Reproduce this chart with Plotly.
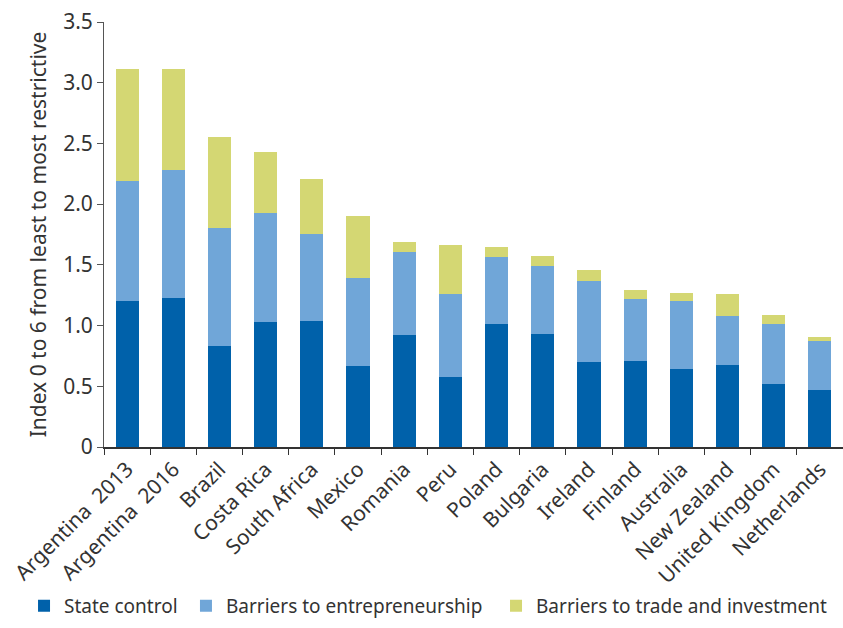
import plotly.graph_objects as go

countries = ["Argentina  2013", "Argentina  2016", "Brazil", "Costa Rica", "South Africa",
             "Mexico", "Romania", "Peru", "Poland", "Bulgaria", "Ireland", "Finland",
             "Australia", "New Zealand", "United Kingdom", "Netherlands"]
# cumulative levels
state_control = [1.20, 1.23, 0.83, 1.03, 1.04, 0.67, 0.92, 0.58, 1.01, 0.93, 0.70, 0.71, 0.64, 0.675, 0.52, 0.47]
entre_top =     [2.19, 2.28, 1.80, 1.93, 1.755, 1.39, 1.61, 1.26, 1.565, 1.49, 1.37, 1.22, 1.20, 1.08, 1.01, 0.87]
total =         [3.11, 3.11, 2.55, 2.43, 2.21, 1.90, 1.69, 1.66, 1.65, 1.57, 1.46, 1.29, 1.27, 1.26, 1.09, 0.91]

entrepreneurship = [round(b - a, 3) for a, b in zip(state_control, entre_top)]
trade = [round(c - b, 3) for b, c in zip(entre_top, total)]

series_names = ["State control", "Barriers to entrepreneurship", "Barriers to trade and investment"]
colors = ["#0061AA", "#70A6D8", "#D4D773"]
legend_ids = ["legend", "legend2", "legend3"]
legend_x = [0.0285, 0.2206, 0.5884]

fig = go.Figure()
for name, vals, col, lg in zip(series_names, [state_control, entrepreneurship, trade], colors, legend_ids):
    fig.add_trace(go.Bar(x=countries, y=vals, name=name, legend=lg,
                         marker=dict(color=col, line=dict(width=0)), width=0.5))

font_family = "Noto Sans, Open Sans, sans-serif"
FS = 21
legend_common = dict(orientation="h", yref="container", y=0.005, yanchor="bottom",
                     xanchor="left", xref="container", font=dict(size=19), itemwidth=30,
                     bgcolor="rgba(0,0,0,0)")
fig.update_layout(
    barmode="stack",
    width=843, height=628,
    margin=dict(l=104, r=0, t=22, b=181, autoexpand=False),
    plot_bgcolor="white", paper_bgcolor="white",
    font=dict(family=font_family, size=FS, color="#333333"),
    showlegend=True,
    legend=dict(x=legend_x[0], **legend_common),
    legend2=dict(x=legend_x[1], **legend_common),
    legend3=dict(x=legend_x[2], **legend_common),
    bargap=0.5,
)
fig.update_yaxes(range=[0, 3.5], tickvals=[0, 0.5, 1, 1.5, 2, 2.5, 3, 3.5],
                 ticktext=["0", "0.5", "1.0", "1.5", "2.0", "2.5", "3.0", "3.5"],
                 showgrid=False, zeroline=False, showline=True, linecolor="#555555", linewidth=1,
                 ticks="outside", ticklen=6, tickcolor="#555555",
                 title=dict(text="Index 0 to 6 from least to most restrictive", font=dict(size=FS), standoff=10))
fig.update_xaxes(showgrid=False, showline=True, linecolor="#333333", linewidth=1.5,
                 ticks="outside", ticklen=6, tickcolor="#333333", tickson="boundaries",
                 tickangle=-45, tickfont=dict(size=FS))

fig.write_html("out.html")
